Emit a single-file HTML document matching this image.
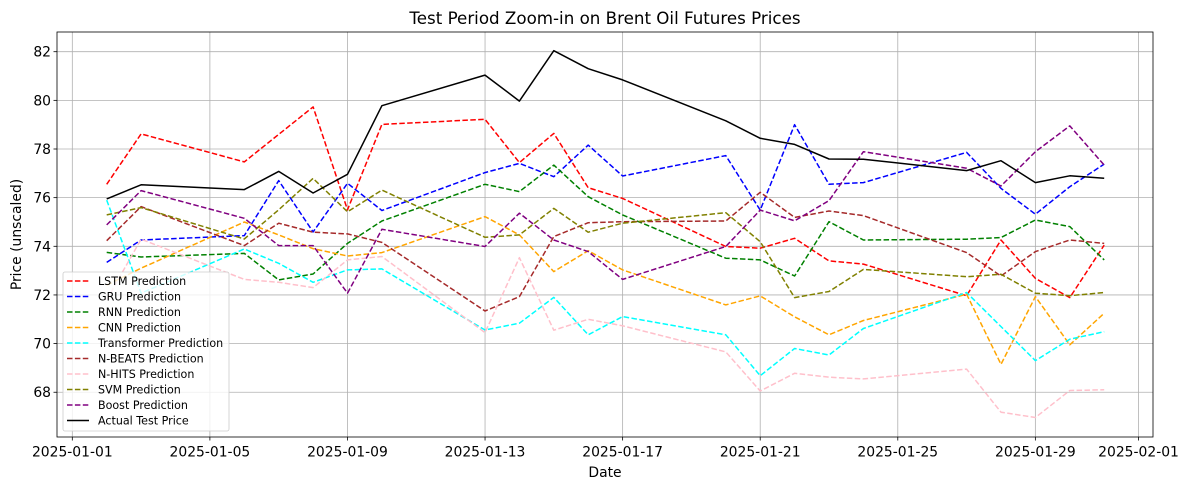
<!DOCTYPE html>
<html><head><meta charset="utf-8"><style>
body{margin:0;background:#fff;font-family:"Liberation Sans","DejaVu Sans",sans-serif;}
svg text{font-family:"DejaVu Sans","Liberation Sans",sans-serif;}
</style></head><body>
<svg id="chart" width="1187" height="490" xmlns="http://www.w3.org/2000/svg"></svg>
<script>
const dates=[2,3,6,7,8,9,10,13,14,15,16,17,20,21,22,23,24,27,28,29,30,31];
const actual=[75.95,76.53,76.33,77.08,76.19,76.96,79.78,81.04,79.97,82.04,81.3,80.84,79.16,78.44,78.19,77.59,77.58,77.11,77.52,76.62,76.9,76.8];
const lstm=[76.55,78.62,77.47,78.6,79.73,75.5,79.01,79.22,77.44,78.64,76.41,75.97,73.99,73.92,74.33,73.4,73.27,71.97,74.26,72.68,71.89,74.05];
const gru=[73.34,74.26,74.44,76.7,74.59,76.59,75.47,77.03,77.41,76.86,78.16,76.89,77.73,75.49,79.0,76.55,76.62,77.86,76.38,75.32,76.45,77.38];
const rnn=[73.75,73.56,73.71,72.62,72.86,74.12,75.04,76.55,76.25,77.34,76.04,75.29,73.51,73.44,72.78,75.01,74.26,74.29,74.36,75.08,74.81,73.44];
const cnn=[72.4,73.1,75.0,74.47,73.9,73.6,73.74,75.22,74.47,72.96,73.82,73.03,71.59,71.96,71.1,70.36,70.95,72.03,69.15,71.93,69.95,71.25];
const transformer=[75.9,72.07,73.89,73.3,72.52,73.03,73.07,70.56,70.84,71.9,70.36,71.11,70.36,68.68,69.8,69.53,70.62,72.1,70.7,69.3,70.18,70.49];
const nbeats=[74.23,75.63,74.03,74.95,74.58,74.51,74.16,71.34,71.93,74.4,74.97,75.01,75.04,76.22,75.19,75.45,75.26,73.74,72.78,73.78,74.26,74.12];
const nhits=[71.8,74.29,72.64,72.52,72.3,73.44,73.58,70.45,73.53,70.55,71.0,70.73,69.66,68.05,68.78,68.62,68.55,68.95,67.18,66.96,68.07,68.1];
const svm=[75.29,75.59,74.3,75.5,76.79,75.42,76.31,74.37,74.47,75.56,74.58,74.95,75.38,74.19,71.89,72.14,73.05,72.75,72.85,72.07,71.97,72.1];
const boost=[74.88,76.29,75.15,74.03,74.03,72.07,74.7,73.99,75.36,74.26,73.78,72.64,73.99,75.49,75.05,75.88,77.89,77.21,76.48,77.89,78.95,77.34];
const yTicks=[68,70,72,74,76,78,80,82];
const xTickDays=[1,5,9,13,17,21,25,29,32];
const xTickLabels=["2025-01-01","2025-01-05","2025-01-09","2025-01-13","2025-01-17","2025-01-21","2025-01-25","2025-01-29","2025-02-01"];
const seriesNames=["LSTM Prediction","GRU Prediction","RNN Prediction","CNN Prediction","Transformer Prediction","N-BEATS Prediction","N-HITS Prediction","SVM Prediction","Boost Prediction","Actual Test Price"];
const seriesColors=["red","blue","green","orange","cyan","brown","pink","olive","purple","black"];
const seriesData=[lstm,gru,rnn,cnn,transformer,nbeats,nhits,svm,boost,actual];

const L=57,T=32,R=1153,B=437;
const xMin=0.555,xMax=32.42,yMin=66.16,yMax=82.81;
const X=d=>L+(d-xMin)/(xMax-xMin)*(R-L);
const Y=v=>B-(v-yMin)/(yMax-yMin)*(B-T);
const svg=document.getElementById('chart');
const NS="http://www.w3.org/2000/svg";
function mk(tag,attrs,parent){const e=document.createElementNS(NS,tag);for(const k in attrs)e.setAttribute(k,attrs[k]);(parent||svg).appendChild(e);return e;}

const grid=mk('g',{});


xTickDays.forEach((d,i)=>{
  const x=X(d);
  const gl=mk('line',{x1:x,x2:x,y1:T,y2:B,stroke:'#b0b0b0','stroke-width':0.8},grid);
  
  
  const tk=mk('line',{x1:x,x2:x,y1:B,y2:B+3.5,stroke:'#000','stroke-width':0.8});
  
  
  const t=mk('text',{x:x,y:B+19.5,'font-size':13.9,'text-anchor':'middle',fill:'#000'});
  t.textContent=xTickLabels[i];
  
  
});
yTicks.forEach(v=>{
  const y=Y(v);
  const gl=mk('line',{x1:L,x2:R,y1:y,y2:y,stroke:'#b0b0b0','stroke-width':0.8},grid);
  
  
  const tk=mk('line',{x1:L-3.5,x2:L,y1:y,y2:y,stroke:'#000','stroke-width':0.8});
  
  
  const t=mk('text',{x:L-6,y:y+5,'font-size':13.9,'text-anchor':'end',fill:'#000'});
  t.textContent=v;
  
  
});

seriesData.forEach((arr,si)=>{
  const pts=arr.map((v,i)=>X(dates[i]).toFixed(1)+','+Y(v).toFixed(1)).join(' ');
  const a={points:pts,fill:'none',stroke:seriesColors[si],'stroke-width':1.5,'stroke-linejoin':'round'};
  if(si<9)a['stroke-dasharray']='5.5,2.4';
  const p=mk('polyline',a);
  
  
});

const frame=mk('rect',{x:L,y:T,width:R-L,height:B-T,fill:'none',stroke:'#000','stroke-width':0.8});



const title=mk('text',{x:(L+R)/2,y:24,'font-size':16.7,'text-anchor':'middle',fill:'#000'});
title.textContent='Test Period Zoom-in on Brent Oil Futures Prices';


const xt=mk('text',{x:(L+R)/2,y:477,'font-size':13.9,'text-anchor':'middle',fill:'#000'});
xt.textContent='Date';


const yt=mk('text',{x:0,y:0,'font-size':13.9,'text-anchor':'middle',fill:'#000',transform:'translate(21,'+((T+B)/2)+') rotate(-90)'});
yt.textContent='Price (unscaled)';



const lg=mk('g',{});


mk('rect',{x:63,y:272,width:166,height:159,rx:2,fill:'#fff','fill-opacity':0.8,stroke:'#ccc','stroke-width':0.8},lg);
seriesNames.forEach((n,i)=>{
  const y=281+i*15.5;
  const a={x1:67,x2:89,y1:y,y2:y,stroke:seriesColors[i],'stroke-width':1.5};
  if(i<9)a['stroke-dasharray']='5.5,2.4';
  const l=mk('line',a,lg);
  
  
  const t=mk('text',{x:98,y:y+4,'font-size':11.1,fill:'#000'},lg);
  t.textContent=n;
  
  
});
</script>
</body></html>
